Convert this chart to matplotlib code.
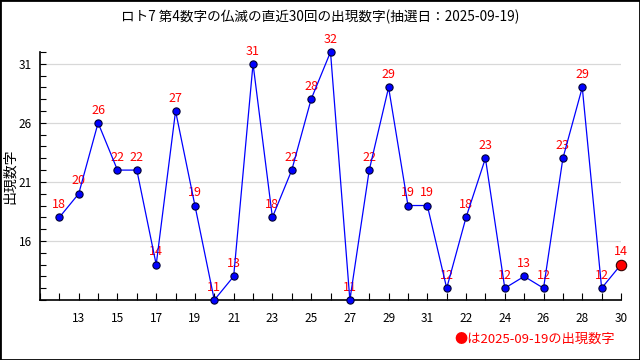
import matplotlib
matplotlib.use("Agg")
import matplotlib.pyplot as plt
from matplotlib.ticker import MultipleLocator, FixedLocator
from matplotlib.patches import Rectangle

plt.rcParams['font.family'] = ['Noto Sans CJK JP', 'DejaVu Sans']

title = "ロト7 第4数字の仏滅の直近30回の出現数字(抽選日：2025-09-19)"
ylabel = "出現数字"
legend_text = "●は2025-09-19の出現数字"

values = [18, 20, 26, 22, 22, 14, 27, 19, 11, 13, 31, 18, 22, 28, 32,
          11, 22, 29, 19, 19, 12, 18, 23, 12, 13, 12, 23, 29, 12, 14]
tick_positions = [2, 4, 6, 8, 10, 12, 14, 16, 18, 20, 22, 24, 26, 28, 30]
tick_labels = ["13", "15", "17", "19", "21", "23", "25", "27", "29", "31",
               "22", "24", "26", "28", "30"]
y_ticks = [16, 21, 26, 31]

fig = plt.figure(figsize=(6.4, 3.6), dpi=100)
ax = fig.add_axes([40/640, 1-300/360, 581/640, 248/360])

x = list(range(1, len(values) + 1))
ax.plot(x, values, color='#0000ff', linewidth=0.9, zorder=3, clip_on=False)
ax.plot(x[:-1], values[:-1], linestyle='none', marker='o', markersize=5.2,
        markerfacecolor='#0000ff', markeredgecolor='#000033', markeredgewidth=0.8,
        zorder=4, clip_on=False)
ax.plot(x[-1:], values[-1:], linestyle='none', marker='o', markersize=7.5,
        markerfacecolor='#ff0000', markeredgecolor='#330000', markeredgewidth=0.8,
        zorder=4, clip_on=False)

for xi, v in zip(x, values):
    ax.annotate(str(v), (xi, v), xytext=(0, 4.5), textcoords='offset points',
                ha='center', va='bottom', color='#ff0000', fontsize=9, zorder=2,
                annotation_clip=False)

ax.set_xlim(0, 30)
ax.set_ylim(11, 32)
ax.xaxis.set_major_locator(FixedLocator(tick_positions))
ax.set_xticklabels(tick_labels)
ax.xaxis.set_minor_locator(MultipleLocator(1))
ax.yaxis.set_major_locator(FixedLocator(y_ticks))
ax.yaxis.set_minor_locator(MultipleLocator(1))

ax.tick_params(axis='both', which='both', direction='in', labelsize=8.5, colors='black')
ax.tick_params(axis='x', which='major', length=5, width=0.8, pad=9)
ax.tick_params(axis='x', which='minor', length=5, width=0.8)
ax.tick_params(axis='y', which='major', length=4, width=0.8, pad=6)
ax.tick_params(axis='y', which='minor', length=4, width=0.8)

ax.spines['top'].set_visible(False)
ax.spines['right'].set_visible(False)
ax.spines['left'].set_linewidth(1.2)
ax.spines['bottom'].set_linewidth(1.2)
ax.grid(axis='y', which='major', color='#d8d8d8', linewidth=0.9)
ax.set_axisbelow(True)

ax.set_ylabel(ylabel, fontsize=10)
ax.yaxis.set_label_coords(-23/581, 0.5)
fig.text(0.5, 1-17/360, title, ha='center', va='center', fontsize=9.8)
fig.text(615/640, 1-339/360, legend_text, ha='right', va='center', fontsize=9.5, color='#ff0000')

fig.patches.append(Rectangle((0, 0), 1, 1, transform=fig.transFigure, fill=False,
                             edgecolor='black', linewidth=2, zorder=10))

fig.savefig("out.png", dpi=100)
